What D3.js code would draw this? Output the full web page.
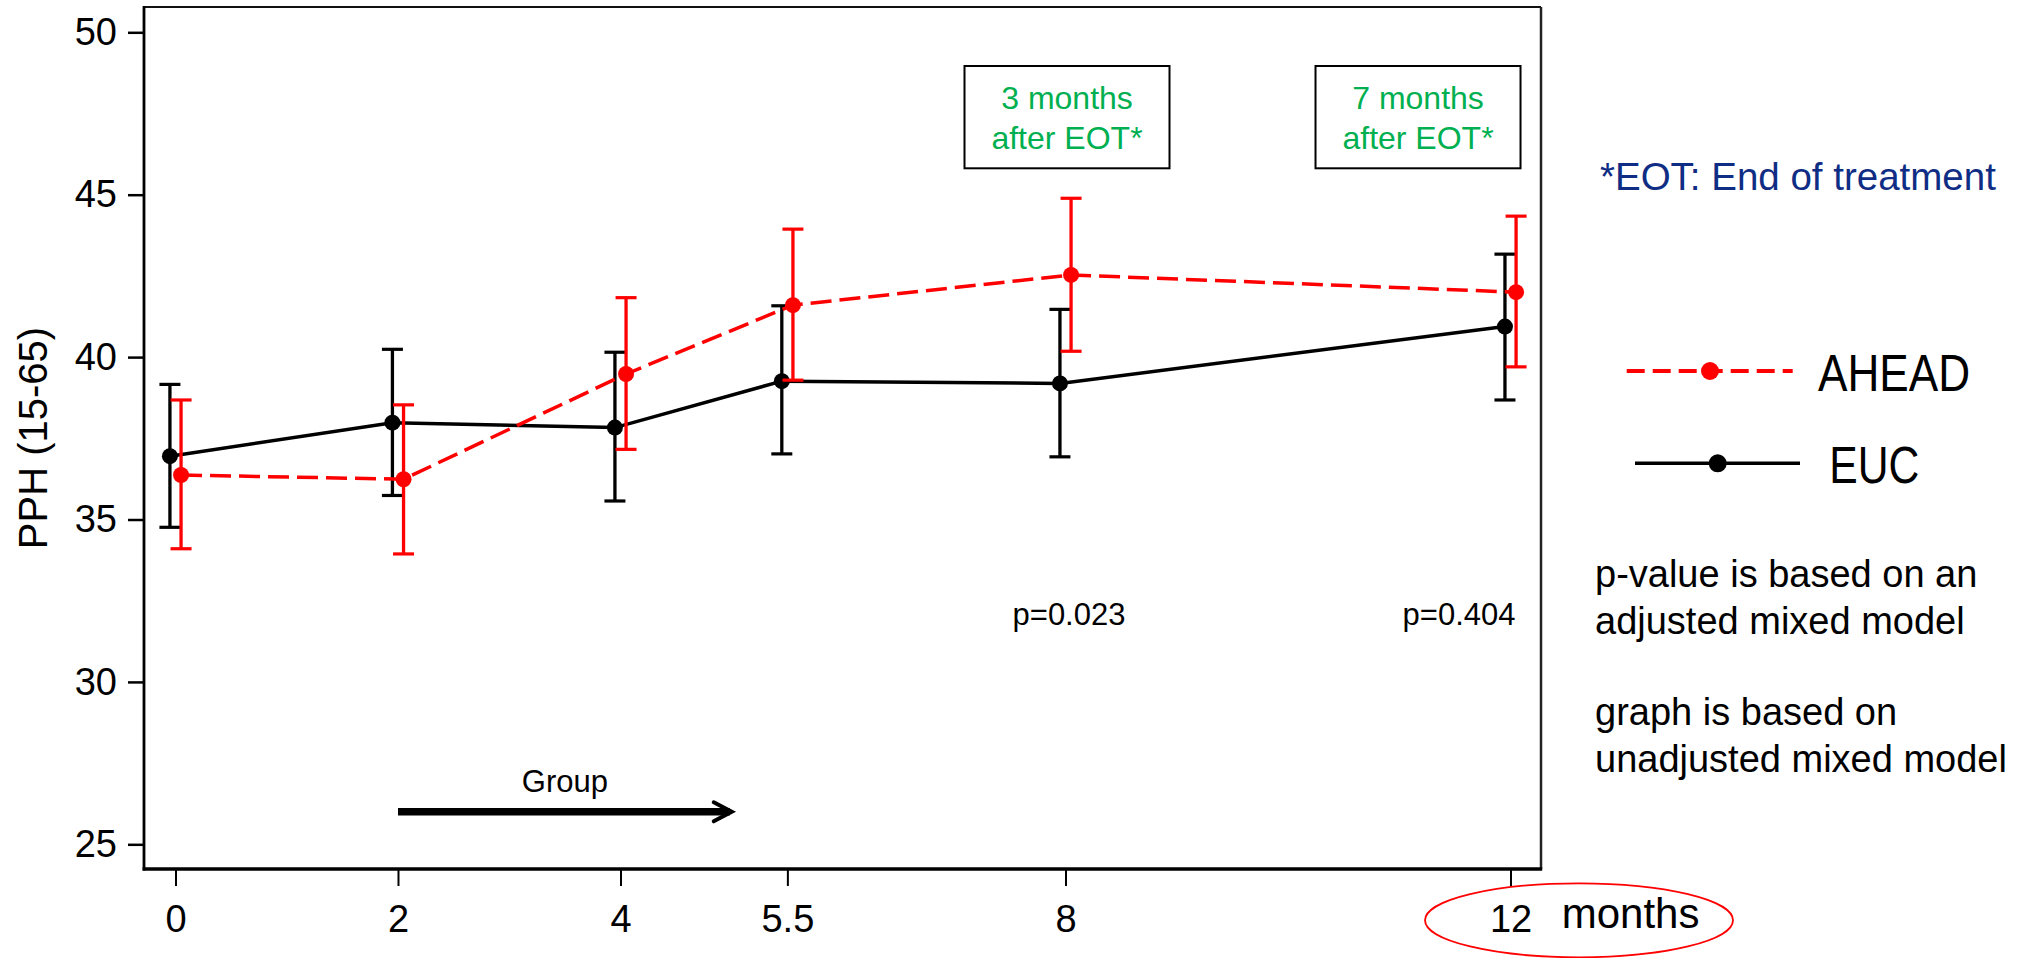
<!DOCTYPE html>
<html>
<head>
<meta charset="utf-8">
<script src="https://cdn.jsdelivr.net/npm/d3@7"></script>
<style>
  html, body { margin: 0; padding: 0; background: #fff; }
  svg { display: block; font-family: "Liberation Sans", Arial, Helvetica, sans-serif; }
</style>
</head>
<body>
<svg id="chart" width="2035" height="958"></svg>
<script>
// ---- data ----
const months      = [0, 2, 4, 5.5, 8, 12];
const tickLabels  = ["0", "2", "4", "5.5", "8", "12"];
const yTicks      = [25, 30, 35, 40, 45, 50];

const aheadMean = [36.37, 36.24, 39.48, 41.60, 42.53, 42.00];
const aheadLow  = [34.10, 33.94, 37.16, 39.29, 40.18, 39.70];
const aheadHigh = [38.68, 38.53, 41.83, 43.94, 44.89, 44.34];

const eucMean = [36.95, 37.98, 37.83, 39.26, 39.19, 40.94];
const eucLow  = [34.76, 35.74, 35.57, 37.02, 36.93, 38.68];
const eucHigh = [39.16, 40.24, 40.15, 41.58, 41.47, 43.17];

const seriesNames = ["AHEAD", "EUC"];
const boxLabels = [["3 months", "after EOT*"], ["7 months", "after EOT*"]];
const pValues = ["p=0.023", "p=0.404"];
const groupArrow = { from: 2, to: 5, level: 26, label: "Group" };
const noteEOT = "*EOT: End of treatment";
const notes = ["p-value is based on an", "adjusted mixed model", "graph is based on", "unadjusted mixed model"];
const yTitle = "PPH (15-65)";
const xUnit = "months";

// ---- layout ----
const L = 144, R = 1541, T = 7, B = 869;
const svg = d3.select("#chart");

const x = d3.scaleLinear().domain([-0.283, 12.274]).range([L, R]);
const y = d3.scaleLinear().domain([24.24, 50.779]).range([B, T]);

const RED = "#ff0000", GREEN = "#00b050", NAVY = "#0f2d84";

// ---- axes ----
const yAxis = svg.append("g").attr("transform", `translate(${L},0)`)
  .call(d3.axisLeft(y).tickValues(yTicks).tickSize(16).tickPadding(11).tickFormat(d3.format("d")));
yAxis.select(".domain").remove();
yAxis.selectAll(".tick line").attr("stroke", "#000").attr("stroke-width", 2.5);
yAxis.selectAll(".tick text").attr("font-size", 38).attr("fill", "#000")
  .attr("font-family", '"Liberation Sans", Arial, sans-serif');

const xAxis = svg.append("g").attr("transform", `translate(0,${B})`)
  .call(d3.axisBottom(x).tickValues(months).tickSize(17).tickPadding(19)
    .tickFormat((d, i) => tickLabels[i]));
xAxis.select(".domain").remove();
xAxis.selectAll(".tick line").attr("stroke", "#000").attr("stroke-width", 2);
xAxis.selectAll(".tick text").attr("font-size", 38).attr("fill", "#000")
  .attr("font-family", '"Liberation Sans", Arial, sans-serif');

// frame
svg.append("line").attr("x1", L).attr("x2", R).attr("y1", T).attr("y2", T).attr("stroke", "#111").attr("stroke-width", 2);
svg.append("line").attr("x1", R).attr("x2", R).attr("y1", T).attr("y2", B).attr("stroke", "#222").attr("stroke-width", 2.5);
svg.append("line").attr("x1", L).attr("x2", L).attr("y1", T - 1).attr("y2", B + 1.5).attr("stroke", "#000").attr("stroke-width", 2.8);
svg.append("line").attr("x1", L - 1.4).attr("x2", R + 1.2).attr("y1", B).attr("y2", B).attr("stroke", "#000").attr("stroke-width", 3.5);

// y title
svg.append("text").attr("transform", `translate(47,438) rotate(-90)`)
  .attr("text-anchor", "middle").attr("font-size", 40).attr("fill", "#000").text(yTitle);

// x unit with ellipse
svg.append("text").attr("x", 1561.7).attr("y", 928.3).attr("font-size", 42).attr("fill", "#000").text(xUnit);
svg.append("ellipse").attr("cx", x(12) + 68.5).attr("cy", 920.3).attr("rx", 154).attr("ry", 37)
  .attr("fill", "none").attr("stroke", RED).attr("stroke-width", 1.8);

// ---- series ----
function drawSeries(mean, low, high, color, offset, dash) {
  const g = svg.append("g");
  const pts = months.map((m, i) => ({ m: m + offset, v: mean[i], lo: low[i], hi: high[i] }));
  const line = d3.line().x(d => x(d.m)).y(d => y(d.v));
  g.append("path").datum(pts).attr("d", line).attr("fill", "none")
    .attr("stroke", color).attr("stroke-width", 3.5)
    .attr("stroke-dasharray", dash || null);
  const cap = 10.5;
  const eb = g.selectAll(".eb").data(pts).join("g");
  eb.append("line").attr("x1", d => x(d.m)).attr("x2", d => x(d.m))
    .attr("y1", d => y(d.lo)).attr("y2", d => y(d.hi))
    .attr("stroke", color).attr("stroke-width", 3.3);
  eb.append("line").attr("x1", d => x(d.m) - cap).attr("x2", d => x(d.m) + cap)
    .attr("y1", d => y(d.hi)).attr("y2", d => y(d.hi))
    .attr("stroke", color).attr("stroke-width", 3.2);
  eb.append("line").attr("x1", d => x(d.m) - cap).attr("x2", d => x(d.m) + cap)
    .attr("y1", d => y(d.lo)).attr("y2", d => y(d.lo))
    .attr("stroke", color).attr("stroke-width", 3.2);
  g.selectAll(".pt").data(pts).join("circle")
    .attr("cx", d => x(d.m)).attr("cy", d => y(d.v)).attr("r", 8).attr("fill", color);
}
drawSeries(eucMean, eucLow, eucHigh, "#000", -0.05, null);
drawSeries(aheadMean, aheadLow, aheadHigh, RED, 0.05, "21,8");

// ---- annotation boxes ----
const boxCenters = [x(8) + 1.5, x(12) - 92.5];
boxLabels.forEach((lines, i) => {
  const cx = boxCenters[i];
  svg.append("rect").attr("x", cx - 102.5).attr("y", 66).attr("width", 205).attr("height", 102.3)
    .attr("fill", "none").attr("stroke", "#000").attr("stroke-width", 2);
  lines.forEach((t, j) => {
    svg.append("text").attr("x", cx).attr("y", 108.5 + j * 40.8)
      .attr("text-anchor", "middle").attr("font-size", 32).attr("fill", GREEN).text(t);
  });
});

// p-values
const pPos = [x(8) + 3.5, x(12) - 51.5];
pValues.forEach((t, i) => {
  svg.append("text").attr("x", pPos[i]).attr("y", 625).attr("text-anchor", "middle")
    .attr("font-size", 31).attr("fill", "#000").text(t);
});

// group arrow
const ay = y(groupArrow.level);
const ax0 = x(groupArrow.from), ax1 = x(groupArrow.to);
svg.append("line").attr("x1", ax0).attr("x2", ax1 - 2).attr("y1", ay).attr("y2", ay)
  .attr("stroke", "#000").attr("stroke-width", 7.5);
svg.append("path").attr("d", `M${ax1 - 18},${ay - 9.5} L${ax1},${ay} L${ax1 - 18},${ay + 9.5}`)
  .attr("fill", "none").attr("stroke", "#000").attr("stroke-width", 4).attr("stroke-linecap", "round");
svg.append("text").attr("x", x((groupArrow.from + groupArrow.to) / 2)).attr("y", 791.7)
  .attr("text-anchor", "middle").attr("font-size", 31).attr("fill", "#000").text(groupArrow.label);

// ---- right-side notes & legend ----
svg.append("text").attr("x", 1600).attr("y", 189.5).attr("font-size", 38.5).attr("fill", NAVY).text(noteEOT);

// legend AHEAD
svg.append("line").attr("x1", 1626.7).attr("x2", 1792.7).attr("y1", 371).attr("y2", 371)
  .attr("stroke", RED).attr("stroke-width", 3.8).attr("stroke-dasharray", "18,8");
svg.append("circle").attr("cx", 1710).attr("cy", 371).attr("r", 9).attr("fill", RED);
svg.append("text").attr("x", 1818).attr("y", 391).attr("font-size", 51).attr("fill", "#000")
  .attr("textLength", 152).attr("lengthAdjust", "spacingAndGlyphs").text(seriesNames[0]);

// legend EUC
svg.append("line").attr("x1", 1635).attr("x2", 1800).attr("y1", 463.3).attr("y2", 463.3)
  .attr("stroke", "#000").attr("stroke-width", 3.6);
svg.append("circle").attr("cx", 1717.7).attr("cy", 463.3).attr("r", 9).attr("fill", "#000");
svg.append("text").attr("x", 1829.3).attr("y", 483.3).attr("font-size", 51).attr("fill", "#000")
  .attr("textLength", 90).attr("lengthAdjust", "spacingAndGlyphs").text(seriesNames[1]);

const noteY = [586.7, 634.3, 725, 772.3];
notes.forEach((t, i) => {
  svg.append("text").attr("x", 1595).attr("y", noteY[i]).attr("font-size", 38).attr("fill", "#000").text(t);
});
</script>
</body>
</html>
